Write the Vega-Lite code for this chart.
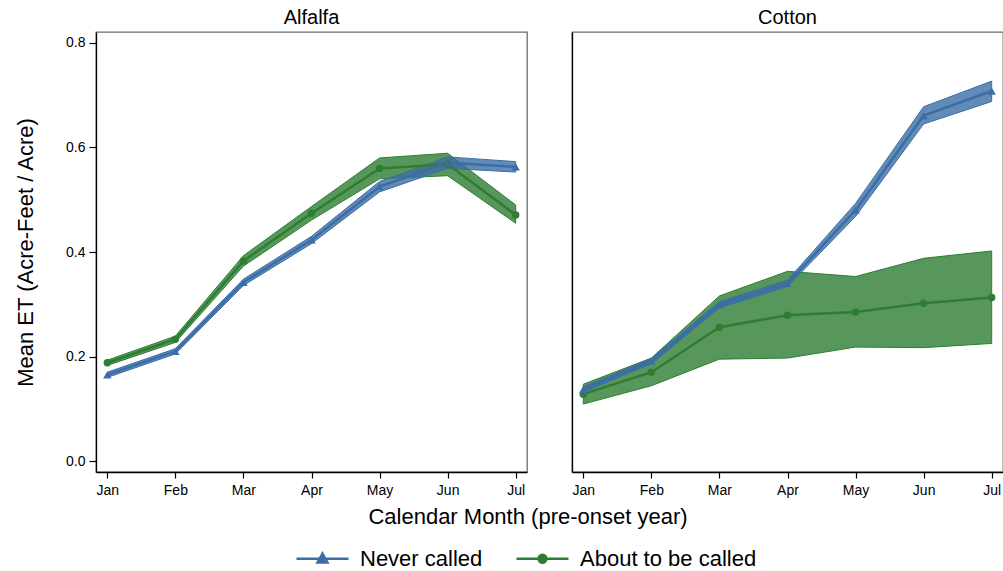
{
  "$schema": "https://vega.github.io/schema/vega-lite/v6.json",
  "padding": {"left": 13, "top": 7, "right": 0, "bottom": 0},
  "background": "white",
  "bounds": "flush",
  "spacing": 45,
  "config": {
    "font": "Liberation Sans",
    "view": {"stroke": "#6e6e6e", "strokeWidth": 1.3},
    "axis": {"grid": false, "domainColor": "#000", "domainWidth": 1.3, "tickColor": "#000", "tickWidth": 1.2, "tickSize": 6, "labelColor": "#000", "labelFontSize": 14, "titleFontSize": 22, "titleFontWeight": "normal", "titleColor": "#000", "labelFont": "Liberation Sans", "titleFont": "Liberation Sans"},
    "title": {"fontSize": 20, "fontWeight": "normal", "color": "#000", "offset": 4, "font": "Liberation Sans"},
    "legend": {"labelFont": "Liberation Sans"}
  },
  "datasets": {
    "alfalfa": [
      {"crop": "Alfalfa", "series": "About to be called", "month": "Jan", "mean": 0.188, "lo": 0.183, "hi": 0.193},
      {"crop": "Alfalfa", "series": "About to be called", "month": "Feb", "mean": 0.233, "lo": 0.227, "hi": 0.239},
      {"crop": "Alfalfa", "series": "About to be called", "month": "Mar", "mean": 0.383, "lo": 0.373, "hi": 0.393},
      {"crop": "Alfalfa", "series": "About to be called", "month": "Apr", "mean": 0.474, "lo": 0.461, "hi": 0.487},
      {"crop": "Alfalfa", "series": "About to be called", "month": "May", "mean": 0.560, "lo": 0.540, "hi": 0.580},
      {"crop": "Alfalfa", "series": "About to be called", "month": "Jun", "mean": 0.568, "lo": 0.546, "hi": 0.589},
      {"crop": "Alfalfa", "series": "About to be called", "month": "Jul", "mean": 0.471, "lo": 0.455, "hi": 0.490},
      {"crop": "Alfalfa", "series": "Never called", "month": "Jan", "mean": 0.165, "lo": 0.160, "hi": 0.170},
      {"crop": "Alfalfa", "series": "Never called", "month": "Feb", "mean": 0.210, "lo": 0.205, "hi": 0.215},
      {"crop": "Alfalfa", "series": "Never called", "month": "Mar", "mean": 0.342, "lo": 0.336, "hi": 0.348},
      {"crop": "Alfalfa", "series": "Never called", "month": "Apr", "mean": 0.423, "lo": 0.416, "hi": 0.430},
      {"crop": "Alfalfa", "series": "Never called", "month": "May", "mean": 0.525, "lo": 0.515, "hi": 0.535},
      {"crop": "Alfalfa", "series": "Never called", "month": "Jun", "mean": 0.571, "lo": 0.560, "hi": 0.582},
      {"crop": "Alfalfa", "series": "Never called", "month": "Jul", "mean": 0.563, "lo": 0.553, "hi": 0.573}
    ],
    "cotton": [
      {"crop": "Cotton", "series": "About to be called", "month": "Jan", "mean": 0.128, "lo": 0.109, "hi": 0.147},
      {"crop": "Cotton", "series": "About to be called", "month": "Feb", "mean": 0.170, "lo": 0.144, "hi": 0.197},
      {"crop": "Cotton", "series": "About to be called", "month": "Mar", "mean": 0.256, "lo": 0.195, "hi": 0.316},
      {"crop": "Cotton", "series": "About to be called", "month": "Apr", "mean": 0.279, "lo": 0.197, "hi": 0.363},
      {"crop": "Cotton", "series": "About to be called", "month": "May", "mean": 0.285, "lo": 0.218, "hi": 0.353},
      {"crop": "Cotton", "series": "About to be called", "month": "Jun", "mean": 0.302, "lo": 0.217, "hi": 0.388},
      {"crop": "Cotton", "series": "About to be called", "month": "Jul", "mean": 0.313, "lo": 0.225, "hi": 0.402},
      {"crop": "Cotton", "series": "Never called", "month": "Jan", "mean": 0.137, "lo": 0.132, "hi": 0.142},
      {"crop": "Cotton", "series": "Never called", "month": "Feb", "mean": 0.191, "lo": 0.186, "hi": 0.196},
      {"crop": "Cotton", "series": "Never called", "month": "Mar", "mean": 0.299, "lo": 0.293, "hi": 0.305},
      {"crop": "Cotton", "series": "Never called", "month": "Apr", "mean": 0.340, "lo": 0.334, "hi": 0.346},
      {"crop": "Cotton", "series": "Never called", "month": "May", "mean": 0.480, "lo": 0.468, "hi": 0.493},
      {"crop": "Cotton", "series": "Never called", "month": "Jun", "mean": 0.661, "lo": 0.645, "hi": 0.678},
      {"crop": "Cotton", "series": "Never called", "month": "Jul", "mean": 0.708, "lo": 0.688, "hi": 0.727}
    ]
  },
  "resolve": {"scale": {"color": "shared"}},
  "hconcat": [
    {
      "width": 431, "height": 440,
      "title": "Alfalfa",
      "data": {"name": "alfalfa"},
      "encoding": {
        "x": {"field": "month", "type": "ordinal", "sort": ["Jan", "Feb", "Mar", "Apr", "May", "Jun", "Jul"], "scale": {"type": "point", "padding": 0.166},
              "axis": {"labelAngle": 0, "labelPadding": 5, "title": "Calendar Month (pre-onset year)", "titleX": 431.5, "titleY": 34, "titleAlign": "center", "titleBaseline": "top"}},
        "color": {"field": "series", "type": "nominal", "scale": {"domain": ["Never called", "About to be called"], "range": ["#3b6ea5", "#2e7d32"]},
                  "legend": {"orient": "none", "legendX": 199, "legendY": 499, "direction": "horizontal", "title": null, "labelFontSize": 22, "labelColor": "#000", "labelLimit": 400, "labelOffset": 10, "columnPadding": 28, "symbolSize": 2704, "symbolStrokeWidth": 2.5, "padding": 0,
                    "encoding": {"symbols": {
                      "shape": {"value": {"expr": "datum.value === 'Never called' ? 'M-1,0H1M-0.19,0.14L0,-0.2L0.19,0.14Z' : 'M-1,0H1M0.15,0A0.15,0.15,0,1,1,-0.15,0A0.15,0.15,0,1,1,0.15,0Z'"}},
                      "stroke": {"value": {"expr": "datum.value === 'Never called' ? '#3b6ea5' : '#2e7d32'"}},
                      "fill": {"value": {"expr": "datum.value === 'Never called' ? '#3b6ea5' : '#2e7d32'"}},
                      "opacity": {"value": 1}, "fillOpacity": {"value": 1}, "strokeOpacity": {"value": 1}, "strokeWidth": {"value": 2.5}}}}}
      },
      "layer": [
        {"mark": {"type": "area", "fillOpacity": 0.8, "strokeWidth": 1, "strokeOpacity": 1},
         "encoding": {
           "y": {"field": "lo", "type": "quantitative", "title": "Mean ET (Acre-Feet / Acre)", "scale": {"domain": [-0.021, 0.821], "nice": false, "zero": false},
                 "axis": {"values": [0, 0.2, 0.4, 0.6, 0.8], "format": ".1f", "tickSize": 7, "labelPadding": 4, "titlePadding": 28}},
           "y2": {"field": "hi"},
           "stroke": {"field": "series", "type": "nominal", "scale": {"domain": ["Never called", "About to be called"], "range": ["#3b6ea5", "#2e7d32"]}, "legend": null}
         }},
        {"mark": {"type": "line", "strokeWidth": 2.5},
         "encoding": {"y": {"field": "mean", "type": "quantitative", "title": "Mean ET (Acre-Feet / Acre)"}}},
        {"transform": [{"filter": "datum.series === 'About to be called'"}],
         "mark": {"type": "point", "shape": "circle", "filled": true, "opacity": 1, "size": 55},
         "encoding": {"y": {"field": "mean", "type": "quantitative", "title": "Mean ET (Acre-Feet / Acre)"}}},
        {"transform": [{"filter": "datum.series === 'Never called'"}],
         "mark": {"type": "point", "shape": "triangle-up", "filled": true, "opacity": 1, "size": 70},
         "encoding": {"y": {"field": "mean", "type": "quantitative", "title": "Mean ET (Acre-Feet / Acre)"}}}
      ]
    },
    {
      "width": 431, "height": 440,
      "title": "Cotton",
      "data": {"name": "cotton"},
      "encoding": {
        "x": {"field": "month", "type": "ordinal", "sort": ["Jan", "Feb", "Mar", "Apr", "May", "Jun", "Jul"], "scale": {"type": "point", "padding": 0.166},
              "axis": {"labelAngle": 0, "labelPadding": 5, "title": null}},
        "color": {"field": "series", "type": "nominal", "scale": {"domain": ["Never called", "About to be called"], "range": ["#3b6ea5", "#2e7d32"]},
                  "legend": {"orient": "none", "legendX": 199, "legendY": 499, "direction": "horizontal", "title": null, "labelFontSize": 22, "labelColor": "#000", "labelLimit": 400, "labelOffset": 10, "columnPadding": 28, "symbolSize": 2704, "symbolStrokeWidth": 2.5, "padding": 0,
                    "encoding": {"symbols": {
                      "shape": {"value": {"expr": "datum.value === 'Never called' ? 'M-1,0H1M-0.19,0.14L0,-0.2L0.19,0.14Z' : 'M-1,0H1M0.15,0A0.15,0.15,0,1,1,-0.15,0A0.15,0.15,0,1,1,0.15,0Z'"}},
                      "stroke": {"value": {"expr": "datum.value === 'Never called' ? '#3b6ea5' : '#2e7d32'"}},
                      "fill": {"value": {"expr": "datum.value === 'Never called' ? '#3b6ea5' : '#2e7d32'"}},
                      "opacity": {"value": 1}, "fillOpacity": {"value": 1}, "strokeOpacity": {"value": 1}, "strokeWidth": {"value": 2.5}}}}}
      },
      "layer": [
        {"mark": {"type": "area", "fillOpacity": 0.8, "strokeWidth": 1, "strokeOpacity": 1},
         "encoding": {
           "y": {"field": "lo", "type": "quantitative", "title": null, "scale": {"domain": [-0.021, 0.821], "nice": false, "zero": false},
                 "axis": {"labels": false, "ticks": false, "title": null, "domain": true}},
           "y2": {"field": "hi"},
           "stroke": {"field": "series", "type": "nominal", "scale": {"domain": ["Never called", "About to be called"], "range": ["#3b6ea5", "#2e7d32"]}, "legend": null}
         }},
        {"mark": {"type": "line", "strokeWidth": 2.5},
         "encoding": {"y": {"field": "mean", "type": "quantitative", "title": null}}},
        {"transform": [{"filter": "datum.series === 'About to be called'"}],
         "mark": {"type": "point", "shape": "circle", "filled": true, "opacity": 1, "size": 55},
         "encoding": {"y": {"field": "mean", "type": "quantitative", "title": null}}},
        {"transform": [{"filter": "datum.series === 'Never called'"}],
         "mark": {"type": "point", "shape": "triangle-up", "filled": true, "opacity": 1, "size": 70},
         "encoding": {"y": {"field": "mean", "type": "quantitative", "title": null}}}
      ]
    }
  ]
}
